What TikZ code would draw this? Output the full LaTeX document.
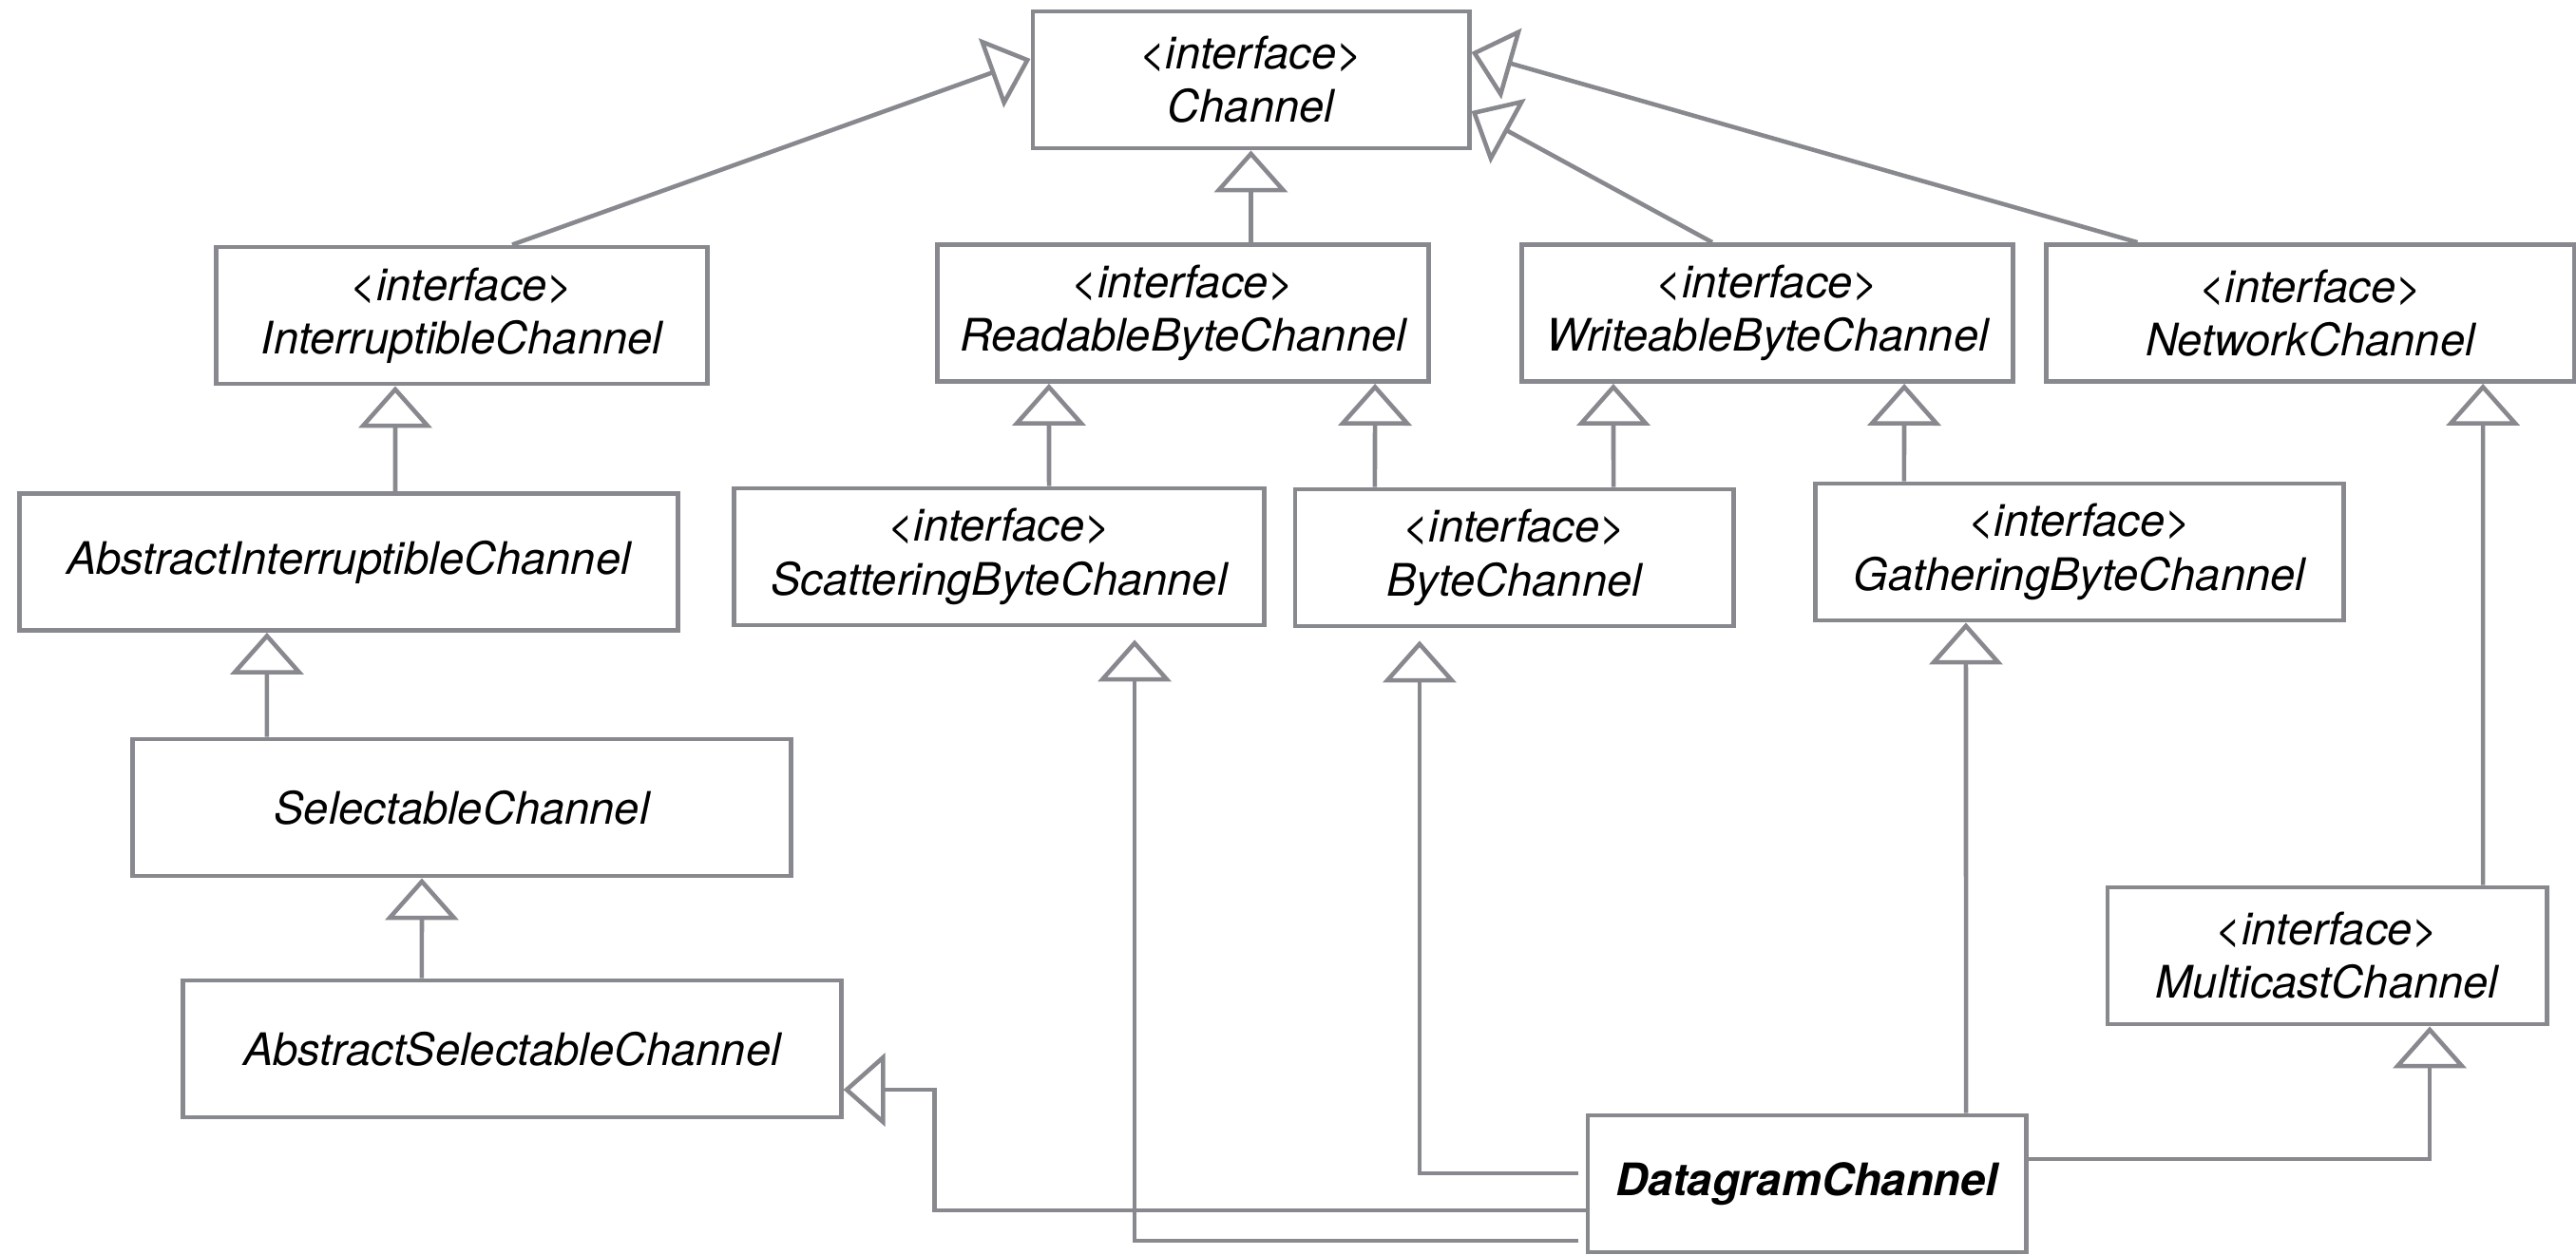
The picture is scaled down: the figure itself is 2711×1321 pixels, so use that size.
\documentclass[tikz,border=0pt]{standalone}
\usepackage{xcolor}
\usepackage{fontspec}
\setmainfont{TeX Gyre Heros}
\usepackage{tikz}
\usetikzlibrary{arrows.meta}
\usetikzlibrary{calc,backgrounds}
\definecolor{umlgray}{RGB}{136,137,142}
\tikzset{
 cls/.style={draw=umlgray, line width=1.35pt, fill=white, inner sep=0pt, minimum height=1.44cm,
  align=center, font=\fontsize{13.4pt}{16pt}\selectfont\itshape},
 inh/.style={draw=umlgray, line width=1.3pt, -{Triangle[length=0.44cm, width=0.77cm, fill=white]}}
}

\begin{document}
\begin{tikzpicture} [x=0.01cm, y=-0.01cm]
\useasboundingbox[fill=white] (0,0) rectangle (2711,1321);
\node[cls, minimum width=4.59cm] (channel) at (1316.5,84) {<interface>\\Channel};
\node[cls, minimum width=5.16cm] (interr) at (486,332) {<interface>\\InterruptibleChannel};
\node[cls, minimum width=5.16cm] (readable) at (1245,329.5) {<interface>\\ReadableByteChannel};
\node[cls, minimum width=5.16cm] (writeable) at (1860,329.5) {<interface>\\WriteableByteChannel};
\node[cls, minimum width=5.55cm] (network) at (2431.5,329.5) {<interface>\\NetworkChannel};
\node[cls, minimum width=6.92cm] (absint) at (367,591.5) {AbstractInterruptibleChannel};
\node[cls, minimum width=5.57cm] (scattering) at (1051.5,586) {<interface>\\ScatteringByteChannel};
\node[cls, minimum width=4.61cm] (bytech) at (1593.5,587) {<interface>\\ByteChannel};
\node[cls, minimum width=5.55cm] (gathering) at (2188.5,581) {<interface>\\GatheringByteChannel};
\node[cls, minimum width=6.92cm] (selectable) at (486,850) {SelectableChannel};
\node[cls, minimum width=6.92cm] (abssel) at (539,1104) {AbstractSelectableChannel};
\node[cls, minimum width=4.62cm] (multicast) at (2449,1006) {<interface>\\MulticastChannel};
\node[cls, minimum width=4.61cm, font=\fontsize{13.4pt}{16pt}\selectfont\bfseries\itshape] (datagram) at (1901.5,1246) {DatagramChannel};

\draw[inh] ([xshift=0.53cm]interr.north) -- ([yshift=0.22cm]channel.west);
\draw[inh] (readable.north -| channel.south) -- (channel.south);
\draw[inh] ([xshift=-0.58cm]writeable.north) -- ([yshift=-0.33cm]channel.east);
\draw[inh] ([xshift=-1.82cm]network.north) -- ([yshift=0.29cm]channel.east);
\draw[inh] ([xshift=0.49cm]absint.north) -- ([xshift=-0.7cm]interr.south);
\draw[inh] ([xshift=-2.05cm]selectable.north) -- ([xshift=-0.86cm]absint.south);
\draw[inh] ([xshift=-0.95cm]abssel.north) -- ([xshift=-0.42cm]selectable.south);
\draw[inh] ([xshift=0.525cm]scattering.north) -- ([xshift=-1.41cm]readable.south);
\draw[inh] ([xshift=-1.465cm]bytech.north) -- ([xshift=2.02cm]readable.south);
\draw[inh] ([xshift=1.045cm]bytech.north) -- ([xshift=-1.62cm]writeable.south);
\draw[inh] ([xshift=-1.845cm]gathering.north) -- ([xshift=1.44cm]writeable.south);
\draw[inh] ([xshift=1.64cm]multicast.north) -- ([xshift=1.815cm]network.south);

\draw[inh] ([yshift=-0.28cm]datagram.west) -| ([xshift=0.96cm,yshift=-0.43cm]abssel.east) -- ([yshift=-0.43cm]abssel.east);
\draw[inh, shorten <=0.08cm, shorten >=0.13cm] ([yshift=-0.6cm]datagram.west) -| ([xshift=1.425cm]scattering.south);
\draw[inh, shorten <=0.08cm, shorten >=0.13cm] ([yshift=0.11cm]datagram.west) -| ([xshift=-0.995cm]bytech.south);
\draw[inh] ([xshift=1.675cm]datagram.north) -- ([xshift=-1.195cm]gathering.south);
\draw[inh] ([yshift=0.26cm]datagram.east) -| ([xshift=1.08cm]multicast.south);
\end{tikzpicture}
\end{document}
